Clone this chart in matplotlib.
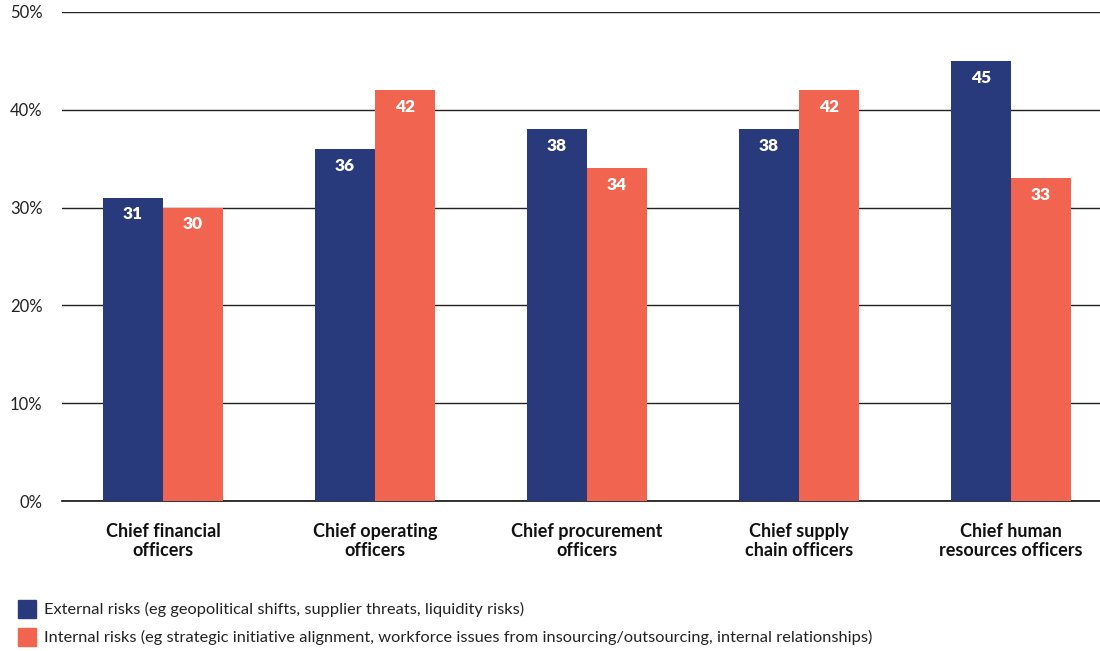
import numpy as np
import matplotlib.pyplot as plt
import matplotlib.patches as pch

plt.rcParams['font.family'] = ['Lato', 'DejaVu Sans']

# data
categories = ['Chief financial\nofficers', 'Chief operating\nofficers',
              'Chief procurement\nofficers', 'Chief supply\nchain officers',
              'Chief human\nresources officers']
external = [31, 36, 38, 38, 45]
internal = [30, 42, 34, 42, 33]
yticks = [0, 10, 20, 30, 40, 50]
legend_labels = ['External risks (eg geopolitical shifts, supplier threats, liquidity risks)',
                 'Internal risks (eg strategic initiative alignment, workforce issues from '
                 'insourcing/outsourcing, internal relationships)']

navy = '#283a7c'
coral = '#f16450'

fig = plt.figure(figsize=(11, 6.51), dpi=100)
ax = fig.add_axes([62 / 1100, 150 / 651, 1038 / 1100, 489 / 651])

x = np.arange(len(categories))
w = 0.283
b1 = ax.bar(x - w / 2, external, w, color=navy, zorder=3)
b2 = ax.bar(x + w / 2, internal, w, color=coral, zorder=3)

# value labels inside bars
for bars, vals in [(b1, external), (b2, internal)]:
    for r, v in zip(bars, vals):
        ax.text(r.get_x() + r.get_width() / 2, v - 1.7, str(v), ha='center', va='center',
                color='white', fontsize=12.5, fontweight='heavy', zorder=4)

ax.set_xlim(-0.476, 4.42)
ax.set_ylim(0, 50)
ax.set_yticks(yticks)
ax.set_yticklabels([str(t) + '%' for t in yticks], fontsize=12, color='#222222')
ax.yaxis.grid(True, color='#222222', lw=1, zorder=0)
ax.tick_params(axis='y', length=0, pad=14)
ax.tick_params(axis='x', length=0, pad=16)
ax.set_xticks(x)
ax.set_xticklabels(categories, fontsize=13, fontweight='bold', color='#111111', linespacing=1.15)
for s in ['top', 'right', 'left']:
    ax.spines[s].set_visible(False)
ax.spines['bottom'].set_color('#111111')
ax.spines['bottom'].set_linewidth(1.2)

# legend
for i, (lab, col) in enumerate(zip(legend_labels, [navy, coral])):
    yy = 1 - (609 + 28 * i) / 651
    fig.patches.append(pch.Rectangle((18 / 1100, yy - 9 / 651), 18 / 1100, 18 / 651,
                                     color=col, transform=fig.transFigure, figure=fig))
    fig.text(44 / 1100, yy, lab, fontsize=11.8, va='center', ha='left', color='#222222')

plt.savefig('out.png', dpi=100)
